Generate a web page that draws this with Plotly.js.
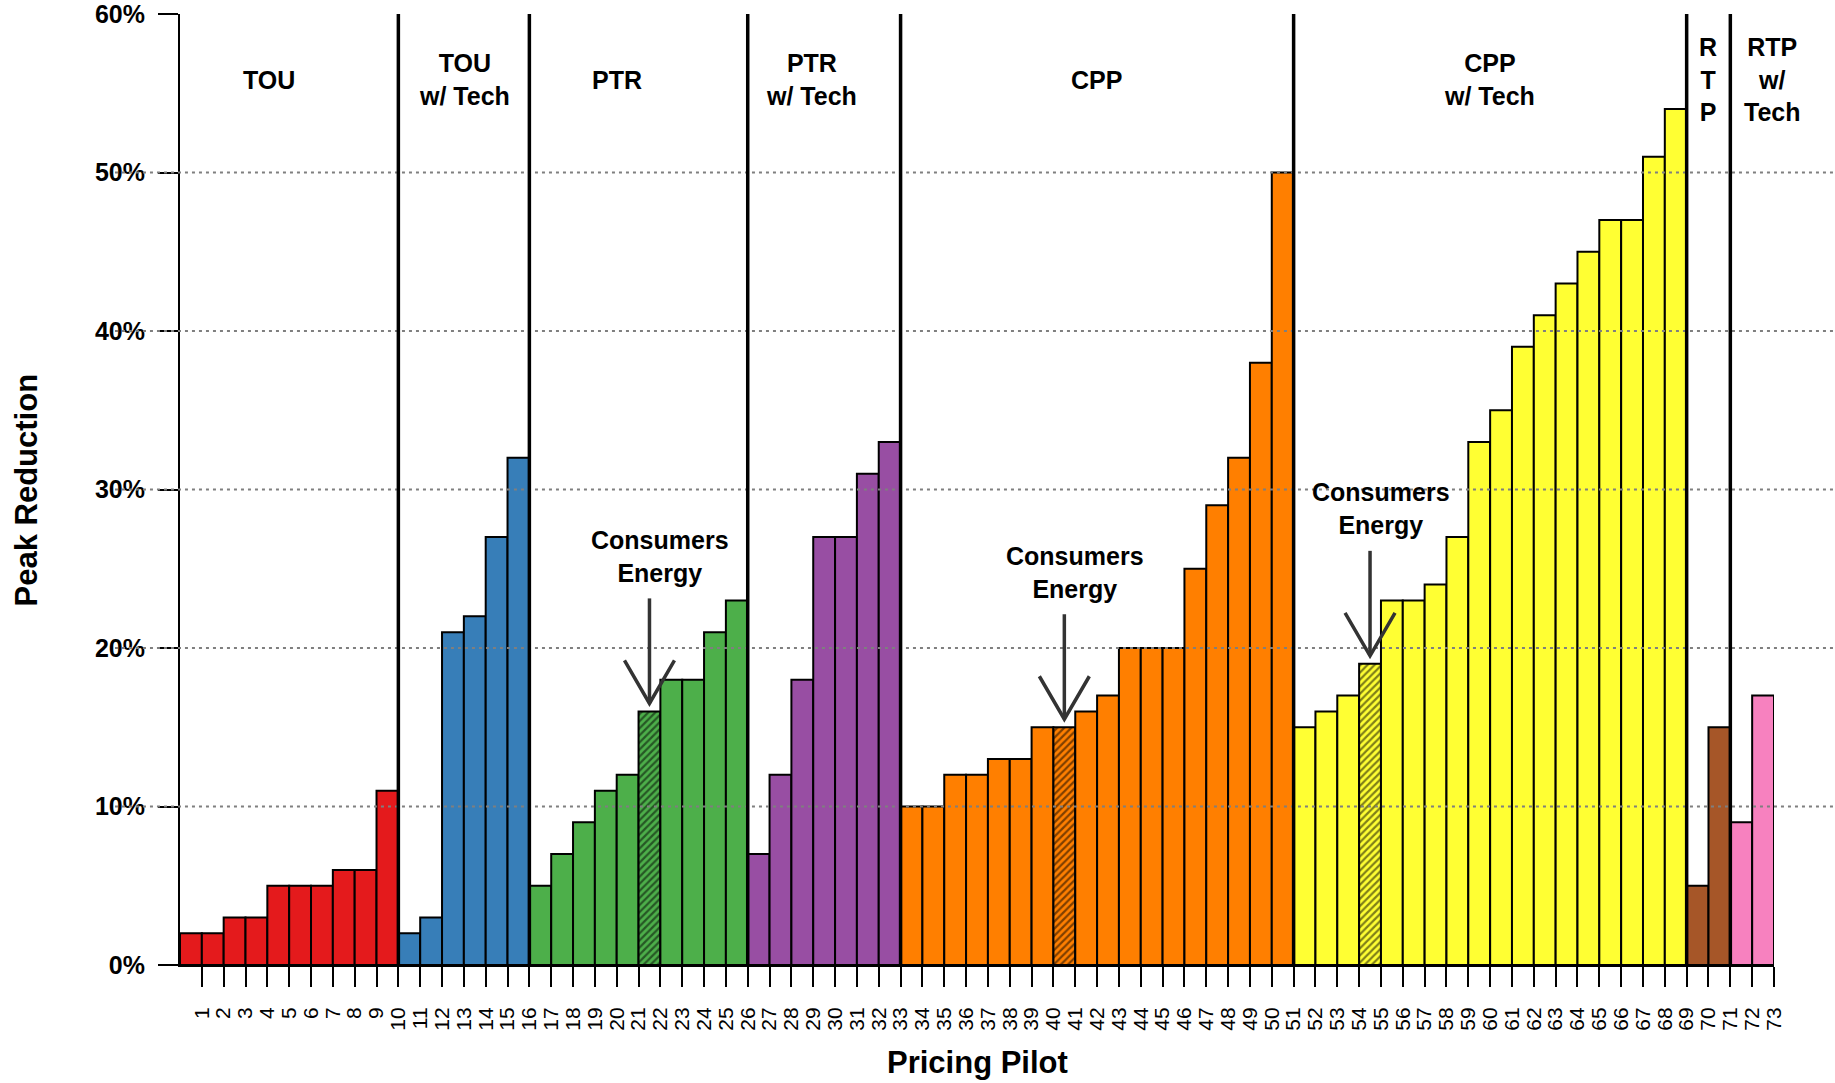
<!DOCTYPE html>
<html>
<head>
<meta charset="utf-8">
<script src="https://cdn.plot.ly/plotly-3.0.1.min.js"></script>
<style>
html, body { margin: 0; padding: 0; background: #ffffff; }
#chart { width: 1835px; height: 1083px; }
</style>
</head>
<body>
<div id="chart"></div>
<script>
// ---------------- DATA ----------------
const programNames = ['TOU', 'TOU w/ Tech', 'PTR', 'PTR w/ Tech', 'CPP', 'CPP w/ Tech', 'RTP', 'RTP w/ Tech'];
const programLabels = ['TOU', 'TOU<br>w/ Tech', 'PTR', 'PTR<br>w/ Tech', 'CPP', 'CPP<br>w/ Tech', 'R<br>T<br>P', 'RTP<br>w/<br>Tech'];

const touPilots = [1, 2, 3, 4, 5, 6, 7, 8, 9, 10];
const touValues = [2, 2, 3, 3, 5, 5, 5, 6, 6, 11];

const touTechPilots = [11, 12, 13, 14, 15, 16];
const touTechValues = [2, 3, 21, 22, 27, 32];

const ptrPilots = [17, 18, 19, 20, 21, 22, 23, 24, 25, 26];
const ptrValues = [5, 7, 9, 11, 12, 16, 18, 18, 21, 23];

const ptrTechPilots = [27, 28, 29, 30, 31, 32, 33];
const ptrTechValues = [7, 12, 18, 27, 27, 31, 33];

const cppPilots = [34, 35, 36, 37, 38, 39, 40, 41, 42, 43, 44, 45, 46, 47, 48, 49, 50, 51];
const cppValues = [10, 10, 12, 12, 13, 13, 15, 15, 16, 17, 20, 20, 20, 25, 29, 32, 38, 50];

const cppTechPilots = [52, 53, 54, 55, 56, 57, 58, 59, 60, 61, 62, 63, 64, 65, 66, 67, 68, 69];
const cppTechValues = [15, 16, 17, 19, 23, 23, 24, 27, 33, 35, 39, 41, 43, 45, 47, 47, 51, 54];

const rtpPilots = [70, 71];
const rtpValues = [5, 15];

const rtpTechPilots = [72, 73];
const rtpTechValues = [9, 17];

const consumersEnergyPilots = [22, 41, 55];

const tickLabels = ['1','2','3','4','5','6','7','8','9','10','11','12','13','14','15','16','17','18','19','20',
  '21','22','23','24','25','26','27','28','29','30','31','32','33','34','35','36','37','38','39','40',
  '41','42','43','44','45','46','47','48','49','50','51','52','53','54','55','56','57','58','59','60',
  '61','62','63','64','65','66','67','68','69','70','71','72','73'];

const yTickValues = [0, 10, 20, 30, 40, 50, 60];
const yTickLabels = ['0%', '10%', '20%', '30%', '40%', '50%', '60%'];
const gridLevels = [10, 20, 30, 40, 50];

// ---------------- STYLE / POSITION ----------------
const programColors = ['#E41A1C', '#377EB8', '#4DAF4A', '#984EA3', '#FF7F00', '#FFFF33', '#A65628', '#F781BF'];
const labelXPositions = [4.07, 13.03, 20.0, 28.9, 41.96, 59.96, 69.97, 72.95];
const FONT = 'Liberation Sans, Arial, Helvetica, sans-serif';
const Y_MAX = 60;

const groups = [
  { pilots: touPilots, values: touValues },
  { pilots: touTechPilots, values: touTechValues },
  { pilots: ptrPilots, values: ptrValues },
  { pilots: ptrTechPilots, values: ptrTechValues },
  { pilots: cppPilots, values: cppValues },
  { pilots: cppTechPilots, values: cppTechValues },
  { pilots: rtpPilots, values: rtpValues },
  { pilots: rtpTechPilots, values: rtpTechValues }
];

const traces = groups.map((g, i) => ({
  type: 'bar',
  name: programNames[i],
  x: g.pilots,
  y: g.values,
  width: 1,
  offset: -1,
  marker: {
    color: programColors[i],
    line: { color: '#000000', width: 2 },
    pattern: {
      shape: g.pilots.map(p => consumersEnergyPilots.includes(p) ? '/' : ''),
      fillmode: 'overlay',
      fgcolor: '#000000',
      bgcolor: programColors[i],
      size: 5,
      solidity: 0.45
    }
  },
  hoverinfo: 'skip',
  showlegend: false
}));

const allPilots = groups.flatMap(g => g.pilots);
const allValues = groups.flatMap(g => g.values);

const shapes = [];
// dotted gridlines (drawn above bars, extending beyond plot area)
gridLevels.forEach(lv => {
  shapes.push({
    type: 'line', xref: 'paper', yref: 'paper',
    x0: -0.0408, x1: 1.04, y0: lv / Y_MAX, y1: lv / Y_MAX,
    line: { color: '#7f7f7f', width: 2, dash: '3px,4px' },
    layer: 'above'
  });
});
// thick separators between programs
groups.slice(0, -1).forEach(g => {
  const b = g.pilots[g.pilots.length - 1];
  shapes.push({
    type: 'line', xref: 'x', yref: 'paper',
    x0: b, x1: b, y0: 0, y1: 1,
    line: { color: '#000000', width: 3.5 },
    layer: 'above'
  });
});
// Consumers Energy arrows
consumersEnergyPilots.forEach(p => {
  const v = allValues[allPilots.indexOf(p)];
  shapes.push({
    type: 'line', xref: 'x', yref: 'y',
    x0: p - 0.5, x1: p - 0.5,
    ysizemode: 'pixel', yanchor: v, y0: 113, y1: 8,
    line: { color: '#333333', width: 3.5 },
    layer: 'above'
  });
  shapes.push({
    type: 'path', xref: 'x', yref: 'y',
    xsizemode: 'pixel', xanchor: p - 0.5,
    ysizemode: 'pixel', yanchor: v,
    path: 'M-25,51L0,8L25,51',
    line: { color: '#333333', width: 3.5 },
    layer: 'above'
  });
});

const annotations = [];
programLabels.forEach((t, i) => {
  annotations.push({
    text: t, x: labelXPositions[i], xref: 'x', y: 0.9306, yref: 'paper',
    xanchor: 'center', yanchor: 'middle', showarrow: false,
    font: { family: FONT, size: 25, color: '#000000', weight: 'bold' }
  });
});
consumersEnergyPilots.forEach(p => {
  const v = allValues[allPilots.indexOf(p)];
  annotations.push({
    text: 'Consumers<br>Energy', x: p, xref: 'x', y: v, yref: 'y', yshift: 155,
    xanchor: 'center', yanchor: 'middle', showarrow: false,
    font: { family: FONT, size: 25, color: '#000000', weight: 'bold' }
  });
});
annotations.push({
  text: 'Pricing Pilot', x: 0.5, xref: 'paper', y: -0.103, yref: 'paper',
  xanchor: 'center', yanchor: 'middle', showarrow: false,
  font: { family: FONT, size: 31, color: '#000000', weight: 'bold' }
});
annotations.push({
  text: 'Peak Reduction', x: -0.096, xref: 'paper', y: 0.5, yref: 'paper',
  xanchor: 'center', yanchor: 'middle', showarrow: false, textangle: -90,
  font: { family: FONT, size: 31, color: '#000000', weight: 'bold' }
});

const layout = {
  width: 1835, height: 1083,
  margin: { l: 180, r: 61, t: 14, b: 118, pad: 0 },
  paper_bgcolor: '#ffffff', plot_bgcolor: '#ffffff',
  barmode: 'overlay',
  showlegend: false,
  xaxis: {
    range: [0, 73], tickvals: allPilots, ticktext: tickLabels,
    tickangle: -90, ticks: 'outside', ticklen: 20, tickwidth: 2, tickcolor: '#000000',
    showline: true, linecolor: '#000000', linewidth: 2,
    showgrid: false, zeroline: false, ticklabelstandoff: 12,
    tickfont: { family: FONT, size: 21, color: '#000000' },
    fixedrange: true
  },
  yaxis: {
    range: [0, Y_MAX], tickvals: yTickValues, ticktext: yTickLabels,
    ticks: 'outside', ticklen: 20, tickwidth: 2, tickcolor: '#000000',
    showline: true, linecolor: '#000000', linewidth: 2,
    showgrid: false, zeroline: false, ticklabelstandoff: 8,
    ticklabeloverflow: 'allow',
    tickfont: { family: FONT, size: 25, color: '#000000', weight: 'bold' },
    fixedrange: true
  },
  shapes: shapes,
  annotations: annotations
};

Plotly.newPlot('chart', traces, layout, { staticPlot: true, displayModeBar: false });
</script>
</body>
</html>
